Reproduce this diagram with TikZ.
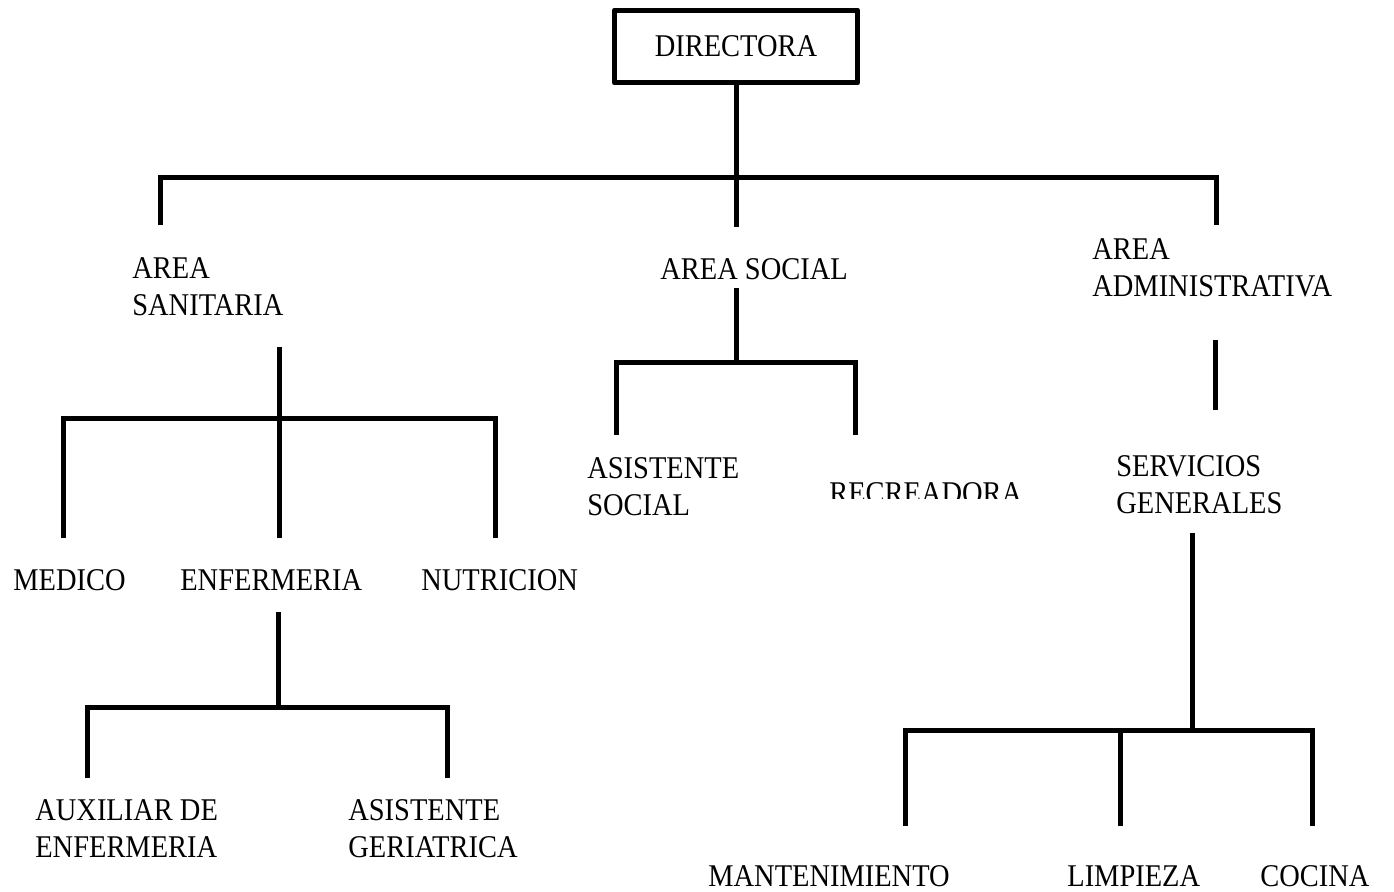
\documentclass[tikz,border=0pt]{standalone}
\usepackage{fontspec}
\setmainfont{Liberation Serif}[FakeStretch=0.9]
\usepackage{tikz}
\usetikzlibrary{calc}

\tikzset{
  cargo/.style={anchor=north west, inner sep=0pt, align=left,
                font=\fontsize{18}{21}\selectfont},
  caja/.style={draw, line width=0.1cm, line join=round, inner sep=0pt,
               minimum width=4.86cm, minimum height=1.46cm,
               font=\fontsize{18}{21}\selectfont},
  rama/.style={line width=0.1cm}
}

\begin{document}
\begin{tikzpicture}[x=0.02cm, y=-0.02cm]

  \useasboundingbox (0,0) rectangle (1394,892);

  %% Directora
  \node[caja] (dir) at (736,46.5) {DIRECTORA};

  %% Labels
  \foreach \n/\x/\y/\t in {san/132/257/{AREA\\SANITARIA},
                           soc/660/258/{AREA SOCIAL},
                           adm/1092/238/{AREA\\ADMINISTRATIVA},
                           med/13/569/{MEDICO},
                           enf/180/569/{ENFERMERIA},
                           nut/421/569/{NUTRICION},
                           aux/35/799/{AUXILIAR DE\\ENFERMERIA},
                           ger/348/799/{ASISTENTE\\GERIATRICA},
                           asi/587/457/{ASISTENTE\\SOCIAL},
                           ser/1116/455/{SERVICIOS\\GENERALES},
                           man/708/865/{MANTENIMIENTO},
                           lim/1067/865/{LIMPIEZA},
                           coc/1260/865/{COCINA}
                          }{
    \node[cargo] (\n) at (\x,\y) {\t};
  }
  \begin{scope}
    \clip (820,470) rectangle (1040,498);
    \node[cargo] (rec) at (829,482) {RECREADORA};
  \end{scope}

  %% End points of the branches
  \foreach \n/\x/\y in {d0/736/227, d1/160/225, d2/1216/225,
                        s0/279/347, s1/63/538, s2/279/538, s3/495/538,
                        e0/278/612, e1/87/778, e2/447/778,
                        o0/736/288, o1/616/435, o2/855/435,
                        a0/1215/340, a1/1215/410,
                        g0/1192/533, g1/905/826, g2/1120/826, g3/1312/826}{
    \coordinate (\n) at (\x,\y);
  }

  %% Nivel 1
  \draw[rama] (dir.south) -- (d0);
  \draw[rama] (d1) |- (d0 |- 0,178) -| (d2);

  %% Area sanitaria
  \draw[rama] (s0) -- (s2);
  \draw[rama] (s1) |- (s2 |- 0,418) -| (s3);

  %% Enfermeria
  \draw[rama] (e0) -- (e0 |- 0,707);
  \draw[rama] (e1) |- (e0 |- 0,707) -| (e2);

  %% Area social
  \draw[rama] (o0) -- (o0 |- 0,362);
  \draw[rama] (o1) |- (o0 |- 0,362) -| (o2);

  %% Area administrativa
  \draw[rama] (a0) -- (a1);

  %% Servicios generales
  \draw[rama] (g0) -- (g0 |- 0,728);
  \draw[rama] (g1) |- (g2 |- 0,730) -| (g3);
  \draw[rama] (g2) -- (g2 |- 0,730);

\end{tikzpicture}
\end{document}
